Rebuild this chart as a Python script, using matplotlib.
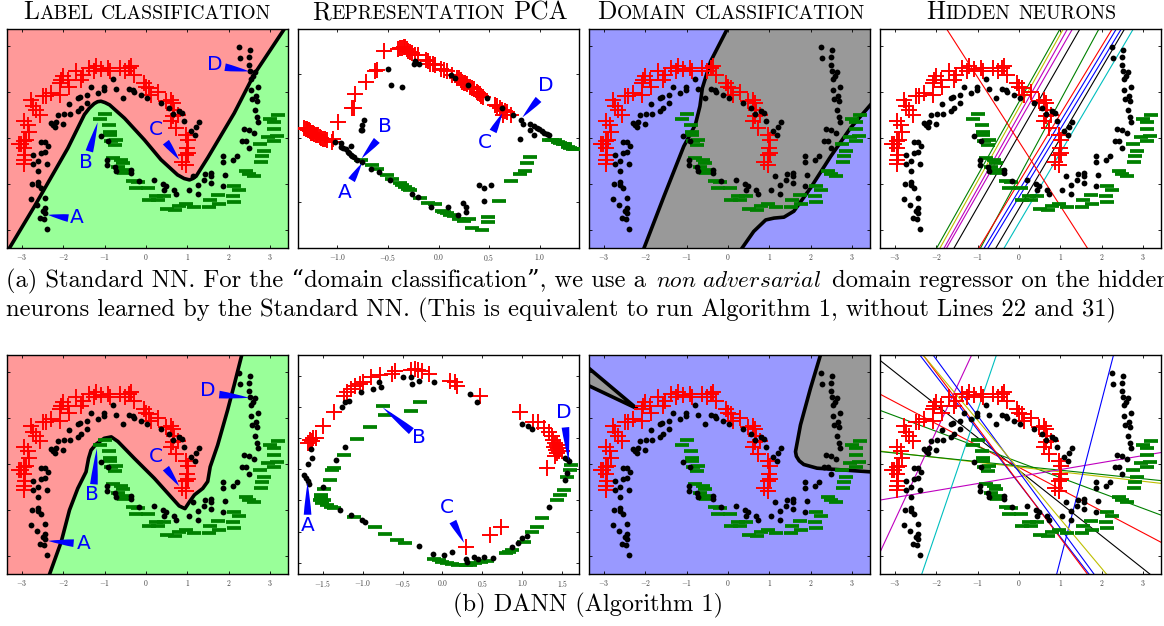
import matplotlib
matplotlib.use('Agg')

import numpy as np
import matplotlib.pyplot as plt

plt.rcParams['font.family'] = ['cmr10', 'DejaVu Serif']
plt.rcParams['mathtext.fontset'] = 'cm'
plt.rcParams['axes.unicode_minus'] = False
plt.rcParams['axes.formatter.use_mathtext'] = True

W, H = 1164, 626

# ---------- input space points ----------
red_x = [-3.02,-2.94,-3.06,-2.90,-2.95,-2.92,-2.94,-2.94,-2.82,-2.86,-2.94,-2.78,-2.65,-2.57,-2.74,-2.49,-2.41,-2.29,-2.09,-2.05,-2.01,-2.09,-1.85,-1.89,-1.69,-1.53,-1.57,-1.37,-1.21,-1.25,-1.09,-0.93,-0.88,-0.64,-0.52,-0.40,-0.36,-0.28,-0.04,0.00,0.08,0.12,0.28,0.48,0.60,0.64,0.68,0.64,0.76,0.60,0.72,0.97,1.01,0.99,1.01,0.97,0.88,0.97]
red_y = [-0.12,-0.07,-0.14,-0.04,-0.22,-0.36,-0.47,-0.56,0.14,0.29,0.36,0.83,0.62,0.51,0.69,0.91,0.91,0.98,0.94,1.27,1.34,1.20,1.12,1.27,1.45,1.38,1.27,1.52,1.56,1.45,1.49,1.52,1.45,1.52,1.45,1.52,1.56,1.38,1.20,1.12,1.09,0.94,1.01,0.80,0.83,0.76,0.62,0.47,0.51,0.36,0.22,0.07,-0.04,-0.22,-0.33,-0.36,-0.51,-0.58]

green_x = [-0.99,-1.11,-0.89,-0.86,-0.86,-0.72,-0.84,-0.76,-0.80,-0.60,-0.56,-0.68,-0.52,-0.54,-0.32,-0.20,-0.24,0.04,0.24,0.44,0.08,0.28,0.50,0.70,0.80,0.97,1.17,1.53,1.55,1.73,1.77,2.09,2.13,2.13,2.25,2.41,2.49,2.61,2.77,2.80,2.86,2.76,2.94,3.08,3.16,3.08,3.00,3.18,3.10]
green_y = [0.53,0.41,0.29,0.14,0.07,-0.04,-0.07,-0.16,-0.43,-0.47,-0.54,-0.62,-0.69,-0.76,-0.94,-0.96,-1.09,-1.09,-1.27,-1.27,-1.34,-1.34,-1.54,-1.57,-1.47,-1.43,-1.50,-1.50,-1.34,-1.23,-1.43,-1.27,-1.40,-1.04,-1.12,-0.72,-0.78,-0.83,-0.53,-0.40,-0.29,-0.13,0.02,-0.07,0.04,0.20,0.41,0.51,0.35]

black_x = [2.25,2.51,2.26,2.49,2.48,2.51,2.64,2.59,2.53,2.70,2.53,2.57,2.65,2.68,2.63,2.68,2.70,2.37,2.48,2.61,2.31,2.41,2.49,2.20,2.09,1.87,1.87,1.91,1.57,1.57,1.42,1.57,1.39,1.14,1.25,1.85,1.26,1.03,0.67,0.72,0.44,0.42,0.48,0.20,-0.16,-0.36,-0.36,-0.72,-0.76,-0.94,-0.94,-0.93,-1.09,
           -2.39,-2.57,-2.47,-2.49,-2.45,-2.43,-2.64,-2.79,-2.45,-2.55,-2.61,-2.76,-2.60,-2.39,-2.61,-2.72,-2.61,-2.72,-2.55,-2.45,-2.37,-2.53,-2.45,
           -2.29,-2.21,-2.25,-2.17,-2.01,-2.13,-1.99,-1.83,-1.85,-1.65,-1.57,-1.65,-1.59,-1.42,-1.42,-1.33,-1.17,-1.01,-1.01,-0.79,-0.72,-0.56,-0.40,-0.32,-0.28,-0.12,0.02,0.36,0.56,0.64,0.80,0.88,0.91,1.29,1.21,1.09,1.19]
black_y = [1.97,1.92,1.75,1.76,1.59,1.45,1.43,1.34,1.28,1.11,1.05,0.85,0.91,0.80,0.62,0.46,0.34,0.20,0.17,0.12,-0.07,-0.06,-0.22,-0.38,-0.47,-0.38,-0.52,-0.80,-0.75,-0.83,-0.78,-0.98,-0.91,-0.83,-1.01,-1.04,-1.21,-1.12,-1.12,-1.21,-1.14,-0.99,-1.05,-0.91,-0.94,-0.76,-0.70,-0.72,-0.62,-0.58,-0.47,-0.07,0.04,
           -1.98,-1.74,-1.76,-1.59,-1.52,-1.64,-1.45,-1.32,-1.30,-1.09,-0.96,-1.00,-1.01,-0.57,-0.71,-0.56,-0.49,-0.36,-0.33,-0.31,-0.18,-0.09,-0.09,
           0.33,0.25,0.29,0.35,0.31,0.49,0.52,0.52,0.75,0.58,0.65,0.87,0.89,0.76,0.94,1.12,0.98,1.12,1.04,1.28,1.07,0.88,1.07,1.04,1.01,0.94,0.87,0.76,0.65,0.53,0.58,0.54,0.36,0.34,0.25,0.16,0.07]

# ---------- PCA points, standard NN ----------
pca_a_red_x = [-1.33,-1.31,-1.30,-1.29,-1.28,-1.27,-1.26,-1.25,-1.24,-1.23,-1.21,-1.20,-1.19,-1.17,-1.16,-1.14,-1.12,-1.10,-1.04,-1.05,-0.99,-0.86,-0.84,-0.83,-0.72,-0.63,-0.61,-0.54,-0.40,-0.38,-0.36,-0.34,-0.33,-0.31,-0.30,-0.28,-0.26,-0.23,-0.20,-0.12,-0.10,-0.08,-0.05,-0.03,0.02,0.05,0.08,0.13,0.18,0.20,0.22,0.23,0.25,0.26,0.28,0.31,0.33,0.35,0.38,0.39,0.41,0.42,0.44,0.56,0.58,0.61,0.63,0.66,0.64,0.68,0.72]
pca_a_red_y = [0.08,0.07,0.07,0.06,0.06,0.05,0.04,0.04,0.04,0.03,0.02,0.02,0.02,0.01,0.00,-0.01,-0.01,-0.02,-0.01,-0.03,0.12,0.23,0.23,0.34,0.44,0.52,0.53,0.68,0.69,0.70,0.70,0.71,0.71,0.69,0.68,0.67,0.66,0.65,0.65,0.61,0.60,0.58,0.58,0.57,0.54,0.53,0.52,0.49,0.47,0.47,0.45,0.44,0.43,0.43,0.42,0.40,0.39,0.38,0.36,0.35,0.34,0.33,0.32,0.26,0.25,0.23,0.22,0.21,0.18,0.20,0.18]

pca_a_green_x = [1.09,1.12,1.15,1.18,1.20,1.23,1.25,1.28,1.30,1.33,1.35,0.91,0.88,0.86,0.81,0.72,0.60,0.49,0.49,0.43,0.33,0.30,0.25,0.20,0.15,0.11,0.08,0.05,0.03,-0.03,-0.10,-0.18,-0.28,-0.30,-0.33,-0.36,-0.38,-0.46,-0.51,-0.61,-0.66,-0.77]
pca_a_green_y = [-0.02,-0.02,-0.02,-0.03,-0.04,-0.05,-0.05,-0.07,-0.08,-0.09,-0.09,-0.15,-0.20,-0.26,-0.28,-0.34,-0.49,-0.62,-0.66,-0.72,-0.70,-0.63,-0.65,-0.63,-0.61,-0.60,-0.59,-0.58,-0.57,-0.52,-0.51,-0.47,-0.41,-0.40,-0.38,-0.37,-0.35,-0.32,-0.29,-0.24,-0.21,-0.17]

pca_a_black_x = [-1.02,-0.96,-0.96,-0.94,-0.92,-0.90,-0.89,-0.87,-0.86,-0.84,-0.81,-0.76,-0.87,-0.67,-0.59,-0.48,-0.26,-0.20,-0.07,0.09,0.19,0.24,0.27,0.27,0.45,0.40,0.45,0.52,-0.77,-0.76,-0.76,-0.74,-0.50,-0.47,-0.36,-0.24,-0.23,-0.19,0.12,0.16,0.29,0.48,0.63,0.74,0.82,0.84,0.91,0.94,0.91,0.94,0.81,0.97,0.99,1.02,1.04,1.07,1.09]
pca_a_black_y = [-0.03,-0.04,-0.07,-0.08,-0.09,-0.11,-0.12,-0.13,-0.14,-0.15,-0.17,-0.19,-0.06,-0.24,-0.27,-0.33,-0.44,-0.46,-0.54,-0.54,-0.60,-0.51,-0.54,-0.58,-0.49,-0.37,-0.39,-0.37,0.06,0.06,0.10,0.14,0.54,0.41,0.40,0.58,0.60,0.58,0.49,0.47,0.41,0.31,0.23,0.18,0.14,0.11,0.11,0.09,0.06,0.02,-0.01,0.08,0.07,0.05,0.04,0.03,0.02]

# ---------- PCA points, DANN ----------
pca_b_red_x = [-1.68,-1.64,-1.62,-1.59,-1.66,-1.50,-1.36,-1.24,-1.20,-1.14,-1.09,-1.03,-0.99,-0.89,-0.78,-0.63,-0.60,-0.40,-0.35,-0.31,-0.26,-0.17,0.10,0.16,0.18,0.47,0.97,1.14,1.20,1.27,1.33,1.37,1.41,1.45,1.43,1.41,1.31,0.29,0.60,0.73,1.50,1.39,1.44,1.47,1.42,1.46,1.40]
pca_b_red_y = [0.42,0.45,0.50,0.50,0.47,0.69,0.91,1.17,1.23,1.28,1.33,1.37,1.39,1.47,1.51,1.52,1.57,1.59,1.60,1.59,1.57,1.53,1.42,1.39,1.33,1.18,0.91,0.76,0.76,0.66,0.60,0.53,0.42,0.34,0.26,0.21,0.02,-1.24,-1.05,-0.92,0.29,0.46,0.38,0.34,0.31,0.29,0.36]

pca_b_green_x = [-0.28,-0.39,-0.74,-0.72,-0.91,-1.07,-1.23,-1.36,-1.39,-1.41,-1.49,-1.52,-1.53,-1.52,-1.51,-1.49,-1.45,-1.40,-1.36,-1.11,-0.84,-0.72,-0.57,-0.47,-0.11,-0.05,0.00,0.06,0.12,0.20,0.29,0.35,0.41,0.48,0.56,0.79,0.83,0.87,1.02,1.12,1.18,1.25,1.43,1.47,1.52,1.56,1.60,1.61]
pca_b_green_y = [1.08,0.93,1.01,0.87,0.67,0.48,0.22,0.02,-0.02,-0.17,-0.31,-0.41,-0.49,-0.45,-0.54,-0.50,-0.58,-0.60,-0.62,-0.76,-0.92,-1.04,-1.13,-1.18,-1.44,-1.46,-1.48,-1.50,-1.52,-1.53,-1.54,-1.53,-1.51,-1.49,-1.47,-1.34,-1.32,-1.29,-1.16,-1.01,-0.92,-0.79,-0.49,-0.41,-0.33,-0.12,-0.01,0.07]

pca_b_black_x = [-1.73,-1.71,-1.68,-1.67,-1.69,-1.64,-1.65,-1.26,-1.22,-1.17,-1.02,-0.87,-0.77,-0.79,-0.49,-0.39,-0.38,-0.30,-0.11,0.34,0.43,0.99,1.07,1.12,1.54,1.56,1.58,1.56,1.53,1.34,1.06,1.00,0.95,0.87,0.63,0.52,0.44,0.39,0.29,0.31,0.12,0.02,-0.12,-0.30,-0.97,-1.01,-1.15,-1.28,-1.50,-1.33,-1.22]
pca_b_black_y = [-0.09,-0.14,-0.19,-0.24,0.09,0.18,0.32,1.00,1.07,1.10,1.23,1.28,1.32,1.40,1.47,1.47,1.37,1.41,1.39,1.21,1.08,0.73,0.69,0.65,0.18,0.16,0.13,-0.06,-0.17,-0.61,-1.07,-1.10,-1.18,-1.24,-1.42,-1.40,-1.44,-1.40,-1.44,-1.49,-1.33,-1.37,-1.36,-1.23,-0.85,-0.81,-0.74,-0.66,-0.29,0.14,0.36]

# ---------- decision boundaries ----------
label_a_x = [-3.30,-2.70,-1.89,-1.49,-1.37,-1.25,-1.17,-1.09,-0.99,-0.88,-0.52,-0.04,0.36,0.76,0.92,1.05,1.13,1.21,1.49,2.13,2.61,3.34]
label_a_y = [-2.39,-1.49,-0.22,0.51,0.65,0.75,0.79,0.80,0.77,0.72,0.43,-0.04,-0.47,-0.80,-0.88,-0.91,-0.88,-0.83,-0.43,0.54,1.38,2.37]

label_b_x = [-2.33,-2.05,-1.85,-1.65,-1.45,-1.39,-1.33,-1.21,-1.01,-0.84,-0.68,-0.28,0.20,0.60,0.80,0.94,1.05,1.17,1.37,1.49,1.55,1.73,1.97,2.13,2.31]
label_b_y = [-2.39,-1.69,-1.00,-0.53,-0.17,0.12,0.30,0.43,0.56,0.59,0.49,0.12,-0.31,-0.71,-0.91,-0.97,-0.82,-0.67,-0.53,-0.38,-0.06,0.41,1.17,1.72,2.36]

domain_a_left_x = [-2.03,-1.55,-1.07,-0.79,-0.68,-0.62,-0.42,-0.02]
domain_a_left_y = [-2.39,-1.27,-0.18,0.29,0.69,1.09,1.67,2.37]
domain_a_right_x = [0.34,0.62,0.91,1.11,1.35,1.59,1.99,2.48,2.96,3.44]
domain_a_right_y = [-2.39,-2.03,-1.78,-1.74,-1.72,-1.59,-1.09,-0.40,0.22,0.72]

domain_b_wedge_x = [-3.36,-2.21,-3.36]
domain_b_wedge_y = [2.08,1.21,1.70]
domain_b_right_x = [2.23,1.99,1.75,1.63,1.65,1.72,1.83,2.15,2.64,3.44]
domain_b_right_y = [2.36,1.64,0.85,0.27,0.17,0.07,-0.01,-0.09,-0.12,-0.17]

# ---------- hidden neurons ----------
neurons_a_x0 = [-1.99,-1.91,-1.81,-1.75,-1.57,-0.93,-0.97,-0.84,-0.75,-0.56,-0.36,-1.75]
neurons_a_y0 = [-2.39,-2.39,-2.39,-2.39,-2.39,-2.39,-2.39,-2.39,-2.39,-2.39,-2.39,2.37]
neurons_a_x1 = [0.99,1.07,1.17,1.29,1.47,1.93,2.25,2.35,2.47,2.55,2.76,1.65]
neurons_a_y1 = [2.37,2.37,2.37,2.37,2.37,2.37,2.37,2.37,2.37,2.37,2.37,-2.39]
neurons_a_colors = ['g','y','m','m','k','g','r','b','b','k','c','r']

neurons_b_x0 = [-3.34,-3.34,-3.34,-3.34,-3.34,-3.34,-3.34,-2.35,0.91,-2.39,-2.07,-2.31,-2.31]
neurons_b_y0 = [2.24,1.51,1.16,0.28,0.27,-0.78,-1.88,-2.39,-2.39,2.36,2.36,2.36,2.36]
neurons_b_x1 = [3.16,3.43,3.43,3.43,3.43,3.43,-1.15,-0.55,2.28,1.69,1.81,1.65,2.11]
neurons_b_y1 = [-2.39,-1.70,-1.11,-0.42,-0.36,0.25,2.36,2.36,2.36,-2.39,-2.39,-2.39,-2.39]
neurons_b_colors = ['k','r','g','y','g','m','m','c','b','b','b','r','y']

# ---------- annotations: text point, arrow tail, arrow tip ----------
letters = ['A','B','C','D']
label_a_notes = [(-1.67,-1.72,-1.88,-1.74,-2.37,-1.67),(-1.46,-0.54,-1.37,-0.29,-1.17,0.34),(0.24,0.18,0.48,-0.09,0.80,-0.47),(1.65,1.59,1.91,1.54,2.49,1.45)]
label_b_notes = [(-1.50,-1.72,-1.75,-1.72,-2.37,-1.67),(-1.31,-0.67,-1.26,-0.44,-1.19,0.34),(0.24,0.17,0.48,-0.09,0.80,-0.48),(1.50,1.59,1.77,1.51,2.49,1.44)]
pca_a_notes = [(-0.93,-0.43,-0.86,-0.33,-0.76,-0.20),(-0.53,0.09,-0.61,-0.02,-0.76,-0.16),(0.46,-0.04,0.54,0.05,0.63,0.19),(1.06,0.41,0.99,0.30,0.83,0.16)]
pca_b_notes = [(-1.69,-0.91,-1.69,-0.73,-1.69,-0.22),(-0.29,0.50,-0.39,0.61,-0.75,0.99),(0.06,-0.62,0.13,-0.84,0.27,-1.18),(1.52,0.91,1.54,0.67,1.58,0.13)]

moon_xlim = (-3.36, 3.43)
moon_ylim = (-2.39, 2.37)
moon_xticks = [-3,-2,-1,0,1,2,3]
moon_yticks = [-2,-1,0,1,2]

panel_lefts = [7, 298, 589, 880]
panel_width = 281
row_tops = [29, 355]
panel_height = 219

RED_BG, GREEN_BG, BLUE_BG, GRAY_BG = '#ff9999', '#99ff99', '#9999ff', '#999999'


def make_axes(fig, left, top, xlim, ylim, xticks, yticks):
    ax = fig.add_axes([left / W, 1 - (top + panel_height) / H, panel_width / W, panel_height / H])
    ax.set_xlim(xlim)
    ax.set_ylim(ylim)
    ax.set_xticks(xticks)
    ax.set_xticklabels(['$%s$' % x for x in xticks])
    ax.set_yticks(yticks)
    ax.set_yticklabels([])
    ax.tick_params(direction='in', length=2, width=0.6, top=True, right=True,
                   labelsize=5.5, labelcolor='#444444', pad=3)
    for s in ax.spines.values():
        s.set_linewidth(1.0)
    return ax


def draw_points(ax, rx, ry, gx, gy, bx, by):
    ax.plot(rx, ry, '+', color='r', ms=12, mew=1.4, ls='none', zorder=4)
    ax.plot(gx, gy, '_', color='g', ms=10, mew=2.7, ls='none', zorder=4)
    ax.plot(bx, by, 'o', color='k', ms=4.2, mew=0, ls='none', zorder=5)


def draw_notes(ax, notes):
    for letter, (tx, ty, ax0, ay0, ax1, ay1) in zip(letters, notes):
        ax.text(tx, ty, letter, color='b', fontsize=14.5, family='DejaVu Sans',
                ha='center', va='center', zorder=7)
        ax.annotate('', xy=(ax1, ay1), xytext=(ax0, ay0), zorder=7,
                    arrowprops=dict(arrowstyle='wedge,tail_width=0.55,shrink_factor=0.6',
                                    color='b', lw=0, shrinkA=0, shrinkB=0, mutation_scale=10))


def put_text(fig, x, baseline, parts):
    # parts: text, fontsize, gap after it in pixels
    renderer = fig.canvas.get_renderer()
    for text, size, gap in parts:
        t = fig.text(x / W, 1 - baseline / H, text, fontsize=size, va='baseline', ha='left')
        x = t.get_window_extent(renderer).x1 + gap


fig = plt.figure(figsize=(W / 100, H / 100), dpi=100)

for row, top in enumerate(row_tops):
    # label classification
    ax = make_axes(fig, panel_lefts[0], top, moon_xlim, moon_ylim, moon_xticks, moon_yticks)
    ax.set_facecolor(RED_BG)
    bx_, by_ = (label_a_x, label_a_y) if row == 0 else (label_b_x, label_b_y)
    ax.fill_between(bx_, by_, moon_ylim[0], color=GREEN_BG, lw=0)
    ax.fill_between([bx_[-1], moon_xlim[1]], moon_ylim[0], moon_ylim[1], color=GREEN_BG, lw=0)
    ax.plot(bx_, by_, color='k', lw=2.6, solid_joinstyle='round', zorder=3)
    draw_points(ax, red_x, red_y, green_x, green_y, black_x, black_y)
    draw_notes(ax, label_a_notes if row == 0 else label_b_notes)

    # representation PCA
    if row == 0:
        ax = make_axes(fig, panel_lefts[1], top, (-1.39, 1.39), (-0.86, 0.85),
                       [-1.0,-0.5,0.0,0.5,1.0], [-0.5,0.0,0.5])
        draw_points(ax, pca_a_red_x, pca_a_red_y, pca_a_green_x, pca_a_green_y, pca_a_black_x, pca_a_black_y)
        draw_notes(ax, pca_a_notes)
    else:
        ax = make_axes(fig, panel_lefts[1], top, (-1.81, 1.71), (-1.68, 1.83),
                       [-1.5,-1.0,-0.5,0.0,0.5,1.0,1.5], [-1.5,-1.0,-0.5,0.0,0.5,1.0,1.5])
        draw_points(ax, pca_b_red_x, pca_b_red_y, pca_b_green_x, pca_b_green_y, pca_b_black_x, pca_b_black_y)
        draw_notes(ax, pca_b_notes)

    # domain classification
    ax = make_axes(fig, panel_lefts[2], top, moon_xlim, moon_ylim, moon_xticks, moon_yticks)
    ax.set_facecolor(BLUE_BG)
    if row == 0:
        poly_x = domain_a_left_x + [moon_xlim[1]] + domain_a_right_x[::-1]
        poly_y = domain_a_left_y + [moon_ylim[1]] + domain_a_right_y[::-1]
        ax.fill(poly_x, poly_y, color=GRAY_BG, lw=0)
        ax.plot(domain_a_left_x, domain_a_left_y, color='k', lw=2.6, zorder=3)
        ax.plot(domain_a_right_x, domain_a_right_y, color='k', lw=2.6, zorder=3)
    else:
        ax.fill(domain_b_wedge_x, domain_b_wedge_y, color=GRAY_BG, lw=0)
        ax.plot(domain_b_wedge_x, domain_b_wedge_y, color='k', lw=2.6, zorder=3)
        poly_x = domain_b_right_x + [moon_xlim[1]]
        poly_y = domain_b_right_y + [moon_ylim[1]]
        ax.fill(poly_x, poly_y, color=GRAY_BG, lw=0)
        ax.plot(domain_b_right_x, domain_b_right_y, color='k', lw=2.6, zorder=3)
    draw_points(ax, red_x, red_y, green_x, green_y, black_x, black_y)

    # hidden neurons
    ax = make_axes(fig, panel_lefts[3], top, moon_xlim, moon_ylim, moon_xticks, moon_yticks)
    if row == 0:
        segs = zip(neurons_a_x0, neurons_a_y0, neurons_a_x1, neurons_a_y1, neurons_a_colors)
    else:
        segs = zip(neurons_b_x0, neurons_b_y0, neurons_b_x1, neurons_b_y1, neurons_b_colors)
    for x0, y0, x1, y1, c in segs:
        ax.plot([x0, x1], [y0, y1], color=c, lw=0.8, zorder=2)
    draw_points(ax, red_x, red_y, green_x, green_y, black_x, black_y)

fig.canvas.draw()

# ---------- panel titles, faked small caps ----------
BIG, SMALL = 18.3, 14.1
put_text(fig, 23, 19, [('L', BIG, 0.5), ('ABEL', SMALL, 8), ('CLASSIFICATION', SMALL, 0)])
put_text(fig, 312, 19, [('R', BIG, 0.5), ('EPRESENTATION', SMALL, 8), ('PCA', BIG, 0)])
put_text(fig, 597, 19, [('D', BIG, 0.5), ('OMAIN', SMALL, 8), ('CLASSIFICATION', SMALL, 0)])
put_text(fig, 926, 19, [('H', BIG, 0.5), ('IDDEN', SMALL, 8), ('NEURONS', SMALL, 0)])

# ---------- captions ----------
CAP = 17.7
fig.text(6 / W, 1 - 287 / H, '(a) Standard NN. For the \u201cdomain classification\u201d, we use a',
         fontsize=CAP, va='baseline')
fig.text(656 / W, 1 - 287 / H, r'$\mathit{non\ adversarial}$', fontsize=16.8, va='baseline')
fig.text(832 / W, 1 - 287 / H, 'domain regressor on the hidden', fontsize=CAP, va='baseline')
put_text(fig, 6, 316, [('neurons learned by the Standard NN. (This is equivalent to run Algorithm 1, without Lines 22 and 31)', CAP, 0)])
put_text(fig, 453, 611, [('(b) DANN (Algorithm 1)', 17.55, 0)])

fig.savefig('out.png', dpi=100)
plt.close(fig)
